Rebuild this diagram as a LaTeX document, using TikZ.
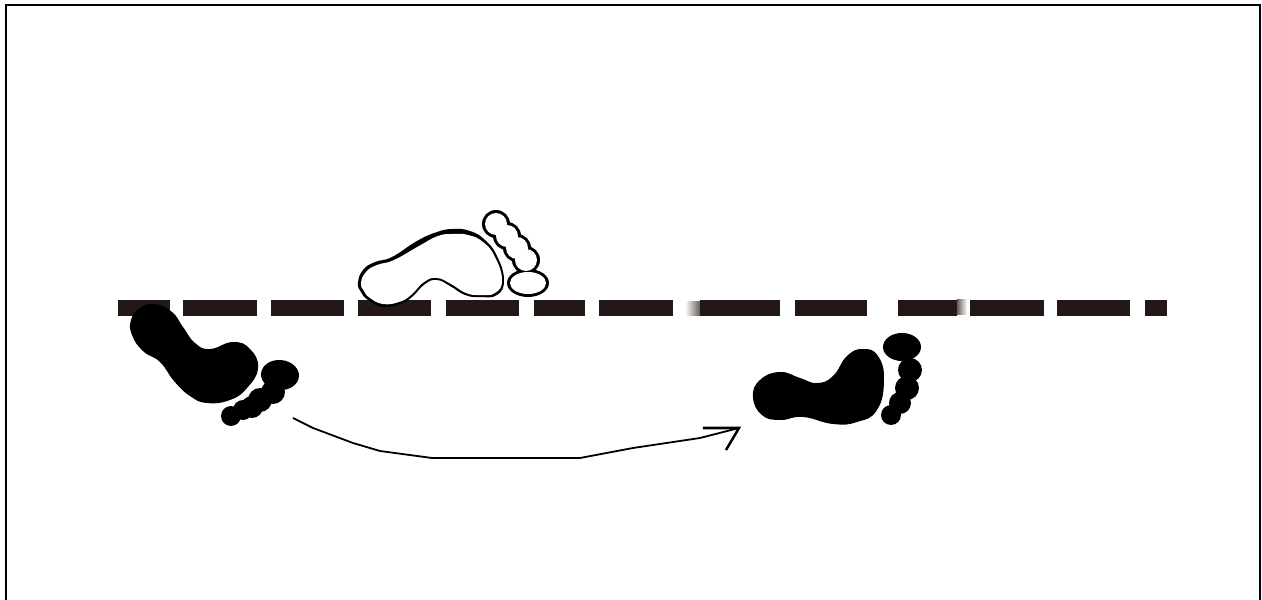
\documentclass[tikz,border=0pt]{standalone}
\definecolor{dashcol}{HTML}{231815}
\tikzset{
  solefill/.style={fill=black,draw=none},
  toefill/.style={fill=black,draw=none},
  dashbar/.style={fill=dashcol,draw=none},
}
\begin{document}
\begin{tikzpicture}[x=0.01cm,y=-0.01cm]
    \useasboundingbox (0,0) rectangle (1262,600);
    \draw[line width=0.025cm,line cap=butt] (6,600) -- (6,5) -- (1260,5) -- (1260,600);
    \foreach \a/\b in {118/170, 183/257, 271/344, 358/431, 446/519, 534/585, 599/673, 700/780, 795/867, 898/957, 970/1044, 1057/1130, 1145/1167} {
      \fill[dashbar] (\a,300) rectangle (\b,316);
    }
    \shade[left color=white,right color=dashcol!70] (685,302) rectangle (700,316);
    \shade[left color=dashcol!70,right color=white] (957,300) rectangle (967,315);
    \fill[solefill] plot[smooth cycle,tension=0.8] coordinates {(155,304) (172,312) (183,327) (195,343) (210,349) (233,342) (250,349) (258,368) (247,388) (230,400) (207,403) (190,396) (174,381) (160,362) (143,351) (132,335) (131,320) (140,308)};
    \foreach \x/\y/\r in {273/392/12, 260/400/12, 252/407/11, 243/410/10, 231/416/10} {
      \fill[toefill] (\x,\y) circle (\r);
    }
    \fill[toefill] (280,375) ellipse [x radius=19,y radius=15,rotate=-5];
    \fill[solefill] plot[smooth cycle,tension=0.8] coordinates {(753,397) (760,380) (780,372) (800,378) (817,383) (833,376) (847,356) (863,349) (878,356) (884,380) (877,410) (857,422) (833,424) (803,417) (780,420) (762,415)};
    \fill[toefill] (902,347) ellipse [x radius=19,y radius=14];
    \foreach \x/\y/\r in {910/370/12, 907/388/12, 900/403/11, 891/415/10} {
      \fill[toefill] (\x,\y) circle (\r);
    }
    \fill[solefill] plot[smooth cycle,tension=0.8] coordinates {(358,283) (363,270) (375,262) (392,257) (417,241) (437,232) (453,229) (470,231) (485,240) (497,256) (504,280) (497,295) (480,297) (465,295) (450,286) (437,280) (425,284) (412,297) (400,304) (383,307) (368,300) (361,292)};
    \fill[white] plot[smooth cycle,tension=0.8] coordinates {(361,283) (366,272) (377,265) (394,260) (419,246) (438,236) (453,234) (468,235) (483,242) (495,257) (502,280) (495,293) (480,295) (466,293) (451,284) (437,278) (424,282) (411,295) (399,302) (383,304) (370,298) (364,291)};
    \foreach \x/\y in {496/224, 507/236, 517/248, 526/260} {
      \fill[black] (\x,\y) circle (14);
    }
    \fill[black] (528,283) ellipse [x radius=21,y radius=14];
    \foreach \x/\y in {496/224, 507/236, 517/248, 526/260} {
      \fill[white] (\x,\y) circle (11);
    }
    \fill[white] (528,283) ellipse [x radius=18,y radius=11];
    \coordinate (tail) at (293,418);
    \coordinate (tip) at (739,428);
    \coordinate (barbup) at (703,428);
    \coordinate (barbdown) at (726,450);
    \draw[line width=0.018cm] (tail) -- (313,428) -- (353,443) -- (380,451) -- (432,458) -- (580,458) -- (633,448) -- (700,438) -- (tip);
    \draw[line width=0.025cm] (barbup) -- (tip) -- (barbdown);
  \end{tikzpicture}
\end{document}
